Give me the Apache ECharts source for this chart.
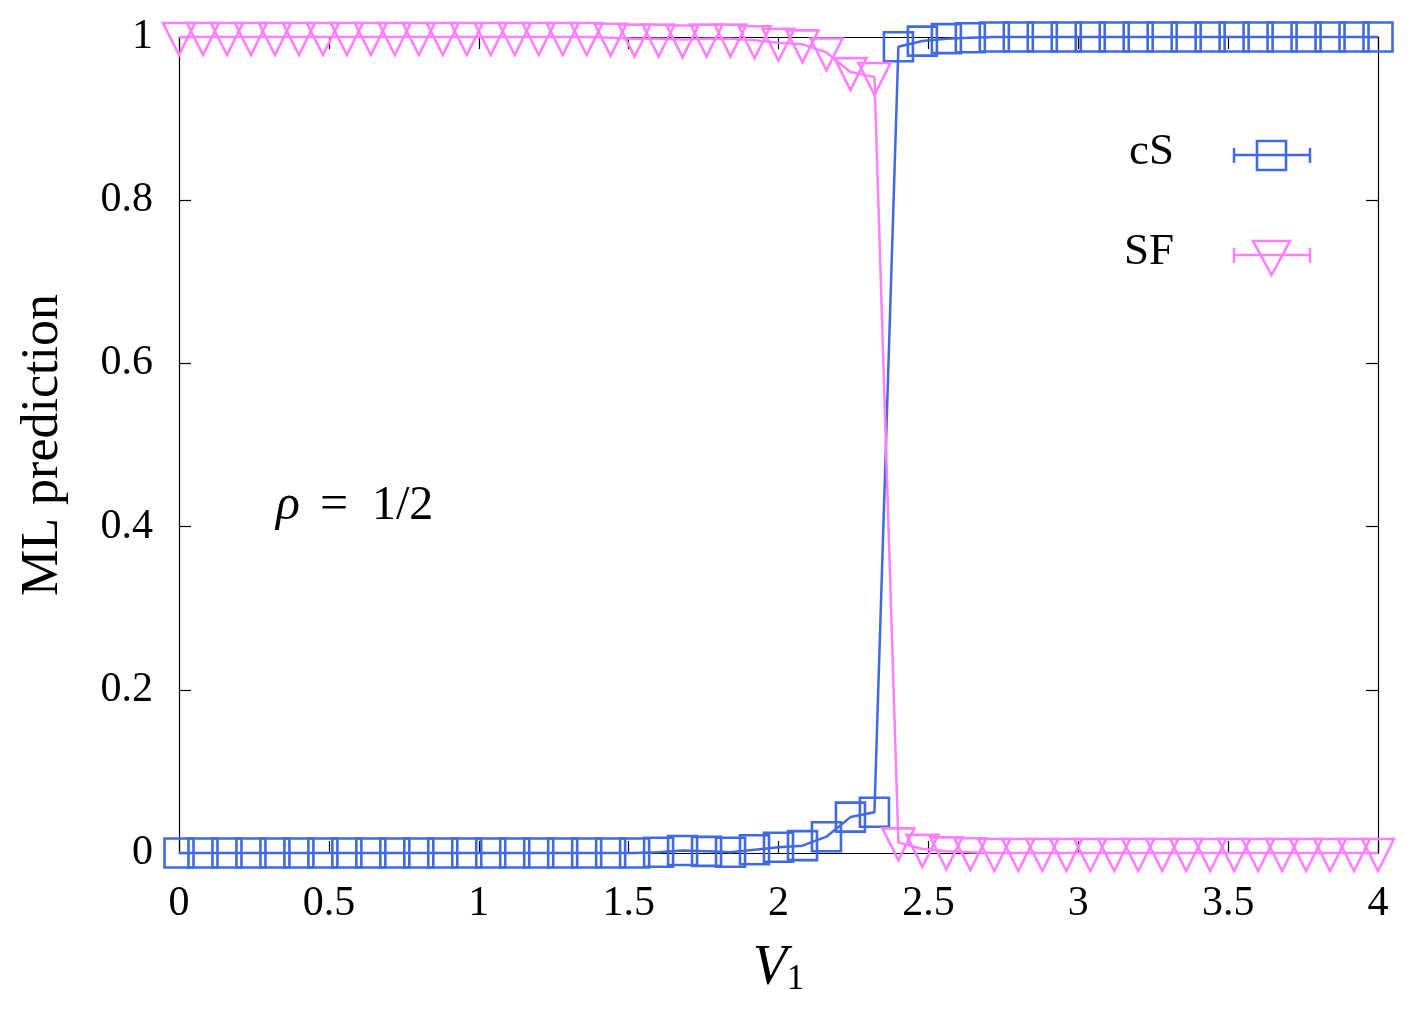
<!DOCTYPE html>
<html>
<head>
<meta charset="utf-8">
<script src="https://cdn.jsdelivr.net/npm/echarts@6/dist/echarts.min.js"></script>
<style>
html,body{margin:0;padding:0;background:#fff;}
#chart{width:1420px;height:1018px;}
</style>
</head>
<body>
<div id="chart"></div>
<script>
// V1 values (step 0.08)
const xValues = [0.00,0.08,0.16,0.24,0.32,0.40,0.48,0.56,0.64,0.72,0.80,0.88,0.96,1.04,1.12,1.20,1.28,1.36,1.44,1.52,
  1.60,1.68,1.76,1.84,1.92,2.00,2.08,2.16,2.24,2.32,2.40,2.48,2.56,2.64,2.72,2.80,2.88,2.96,3.04,3.12,
  3.20,3.28,3.36,3.44,3.52,3.60,3.68,3.76,3.84,3.92,4.00];
const cSValues = [0,0,0,0,0,0,0,0,0,0,0,0,0,0,0,0,0,0,0,0,
  0.001,0.003,0.002,0.001,0.004,0.007,0.009,0.020,0.044,0.050,0.988,0.995,0.998,0.999,1,1,1,1,1,1,
  1,1,1,1,1,1,1,1,1,1,1];
const SFValues = [1,1,1,1,1,1,1,1,1,1,1,1,1,1,1,1,1,1,0.999,0.998,
  0.998,0.997,0.998,0.998,0.996,0.993,0.991,0.981,0.957,0.951,0.013,0.005,0.002,0.001,0,0,0,0,0,0,
  0,0,0,0,0,0,0,0,0,0,0];
const xTicks = [0,0.5,1,1.5,2,2.5,3,3.5,4];
const yTicks = [0,0.2,0.4,0.6,0.8,1];
const seriesNames = ['cS','SF'];

const BLUE = '#4169e1';
const PINK = '#ff80ff';
const FONT = '"Liberation Serif", "DejaVu Serif", serif';

const chart = echarts.init(document.getElementById('chart'), null, {renderer:'canvas'});

const gridL = 179, gridR = 42, gridT = 37, gridB = 165;

function fmt(v){ return String(v); }

const option = {
  animation: false,
  backgroundColor: '#fff',
  grid: {left: gridL, right: gridR, top: gridT, bottom: gridB, containLabel: false},
  xAxis: [{
    type: 'value', min: 0, max: 4, interval: 0.5, position: 'bottom',
    axisLine: {show: true, onZero: false, lineStyle: {color: '#000', width: 1.2}},
    axisTick: {show: true, inside: true, length: 12, lineStyle: {color: '#000', width: 1.2}},
    splitLine: {show: false},
    axisLabel: {show: true, margin: 30, fontFamily: FONT, fontSize: 42, color: '#000',
      formatter: fmt},
    name: '{v|V}{s|1}', nameLocation: 'middle', nameGap: 88,
    nameTextStyle: {rich: {
      v: {fontFamily: FONT, fontStyle: 'italic', fontSize: 56, color: '#000', verticalAlign: 'bottom'},
      s: {fontFamily: FONT, fontSize: 35, color: '#000', verticalAlign: 'bottom'}
    }}
  },{
    type: 'value', min: 0, max: 4, interval: 0.5, position: 'top',
    axisLine: {show: true, onZero: false, lineStyle: {color: '#000', width: 1.2}},
    axisTick: {show: true, inside: true, length: 12, lineStyle: {color: '#000', width: 1.2}},
    splitLine: {show: false}, axisLabel: {show: false}
  }],
  yAxis: [{
    type: 'value', min: 0, max: 1, interval: 0.2, position: 'left',
    axisLine: {show: true, onZero: false, lineStyle: {color: '#000', width: 1.2}},
    axisTick: {show: true, inside: true, length: 12, lineStyle: {color: '#000', width: 1.2}},
    splitLine: {show: false},
    axisLabel: {show: true, margin: 26, fontFamily: FONT, fontSize: 42, color: '#000',
      formatter: fmt},
    name: 'ML prediction', nameLocation: 'middle', nameGap: 110,
    nameTextStyle: {fontFamily: FONT, fontSize: 52, color: '#000'}
  },{
    type: 'value', min: 0, max: 1, interval: 0.2, position: 'right',
    axisLine: {show: true, onZero: false, lineStyle: {color: '#000', width: 1.2}},
    axisTick: {show: true, inside: true, length: 12, lineStyle: {color: '#000', width: 1.2}},
    splitLine: {show: false}, axisLabel: {show: false}
  }],
  series: [{
    name: seriesNames[0], type: 'line', xAxisIndex: 0, yAxisIndex: 0,
    data: xValues.map((x,i)=>[x, cSValues[i]]),
    symbol: 'rect', symbolSize: 29, showAllSymbol: true, clip: false,
    lineStyle: {color: BLUE, width: 2.5},
    itemStyle: {color: 'none', borderColor: BLUE, borderWidth: 2.6},
    emphasis: {disabled: true}, z: 2
  },{
    name: seriesNames[1], type: 'line', xAxisIndex: 0, yAxisIndex: 0,
    data: xValues.map((x,i)=>[x, SFValues[i]]),
    symbol: 'triangle', symbolSize: [32, 32], symbolRotate: 180, symbolOffset: [0, 2],
    showAllSymbol: true, clip: false,
    lineStyle: {color: PINK, width: 2.5},
    itemStyle: {color: 'none', borderColor: PINK, borderWidth: 2.6},
    emphasis: {disabled: true}, z: 3
  }],
  graphic: [
    // legend: cS
    {type: 'text', x: 1174, y: 152, style: {text: 'cS', font: '45px ' + FONT, fill: '#000', align: 'right', verticalAlign: 'middle'}},
    {type: 'line', shape: {x1: 1234, y1: 155, x2: 1310, y2: 155}, style: {stroke: BLUE, lineWidth: 2.5}},
    {type: 'line', shape: {x1: 1234, y1: 148, x2: 1234, y2: 163}, style: {stroke: BLUE, lineWidth: 2.5}},
    {type: 'line', shape: {x1: 1310, y1: 148, x2: 1310, y2: 163}, style: {stroke: BLUE, lineWidth: 2.5}},
    {type: 'rect', shape: {x: 1257, y: 141, width: 29, height: 29}, style: {fill: 'none', stroke: BLUE, lineWidth: 2.6}},
    // legend: SF
    {type: 'text', x: 1174, y: 252, style: {text: 'SF', font: '45px ' + FONT, fill: '#000', align: 'right', verticalAlign: 'middle'}},
    {type: 'line', shape: {x1: 1234, y1: 255, x2: 1310, y2: 255}, style: {stroke: PINK, lineWidth: 2.5}},
    {type: 'line', shape: {x1: 1234, y1: 248, x2: 1234, y2: 263}, style: {stroke: PINK, lineWidth: 2.5}},
    {type: 'line', shape: {x1: 1310, y1: 248, x2: 1310, y2: 263}, style: {stroke: PINK, lineWidth: 2.5}},
    {type: 'polygon', shape: {points: [[1253, 241], [1290, 241], [1271.5, 275]]}, style: {fill: 'none', stroke: PINK, lineWidth: 2.6}},
    // annotation  rho = 1/2
    {type: 'text', x: 276, y: 506, style: {text: 'ρ', font: 'italic 50px ' + FONT, fill: '#000', align: 'left', verticalAlign: 'middle'}},
    {type: 'text', x: 320, y: 506, style: {text: '=', font: '50px ' + FONT, fill: '#000', align: 'left', verticalAlign: 'middle'}},
    {type: 'text', x: 372, y: 506, style: {text: '1/2', font: '48px ' + FONT, fill: '#000', align: 'left', verticalAlign: 'middle'}}
  ]
};
chart.setOption(option);
</script>
</body>
</html>
